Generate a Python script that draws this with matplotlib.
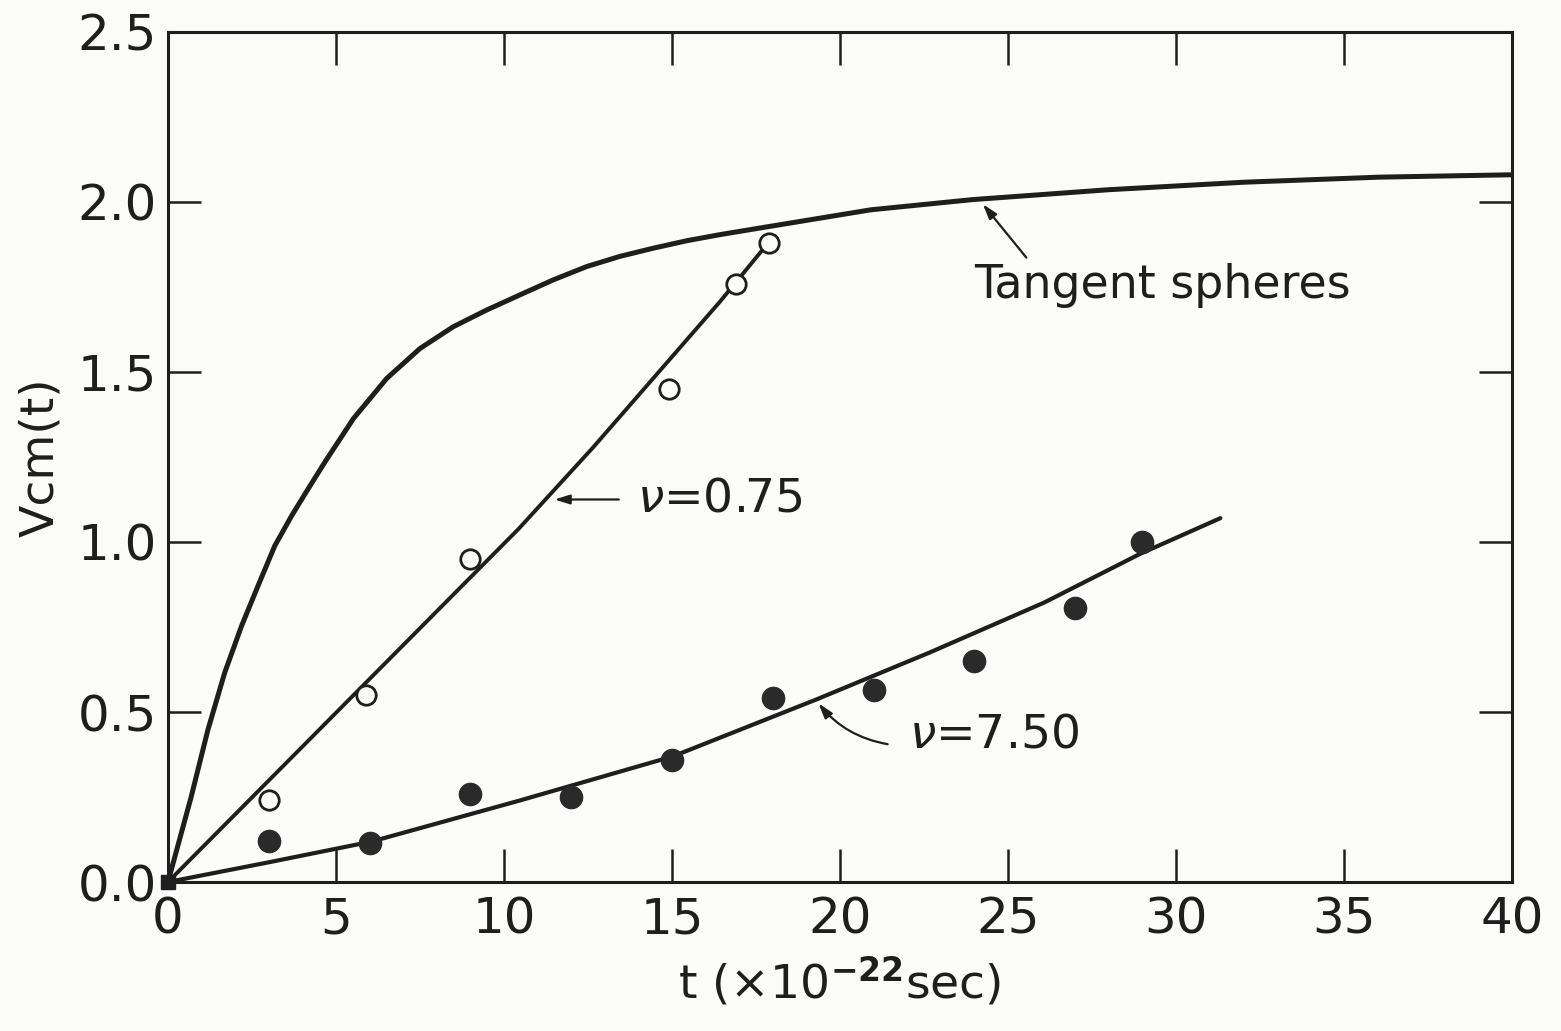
import matplotlib
matplotlib.use('Agg')
import matplotlib.pyplot as plt

# curve: tangent spheres
tangent_t = [0, 0.69, 1.19, 1.69, 2.19, 2.68, 3.18, 3.68, 4.17, 4.67, 5.52, 6.51,
             7.5, 8.49, 9.48, 10.48, 11.47, 12.46, 13.45, 14.44, 15.44, 16.43,
             17.9, 20.92, 23.95, 27.99, 32.0, 36.05, 40.0]
tangent_v = [0, 0.25, 0.448, 0.616, 0.753, 0.871, 0.989, 1.077, 1.156, 1.235, 1.363, 1.481,
             1.569, 1.633, 1.682, 1.727, 1.771, 1.81, 1.84, 1.864, 1.886, 1.904,
             1.928, 1.977, 2.007, 2.036, 2.058, 2.073, 2.08]

# nu = 0.75 line and open circles
line075_t = [0, 10.43, 12.66, 16.43, 17.9]
line075_v = [0, 1.038, 1.279, 1.707, 1.884]
open_t = [3.0, 5.9, 9.0, 14.9, 16.9, 17.9]
open_v = [0.24, 0.55, 0.95, 1.45, 1.76, 1.88]

# nu = 7.50 curve and filled circles
line750_t = [0, 3.0, 6.06, 10.48, 15.04, 19.3, 22.67, 26.08, 28.93, 31.32]
line750_v = [0, 0.058, 0.119, 0.24, 0.37, 0.537, 0.675, 0.822, 0.965, 1.07]
filled_t = [3.0, 6.0, 9.0, 12.0, 15.0, 18.0, 21.0, 24.0, 27.0, 29.0]
filled_v = [0.12, 0.115, 0.26, 0.25, 0.36, 0.54, 0.565, 0.65, 0.805, 1.0]

xticks = [0, 5, 10, 15, 20, 25, 30, 35, 40]
yticks = [0.0, 0.5, 1.0, 1.5, 2.0, 2.5]

ink = '#1e1e1e'
paper = '#fbfbfa'

plt.rcParams['font.family'] = ['DejaVu Sans']
plt.rcParams['mathtext.fontset'] = 'dejavusans'

fig = plt.figure(figsize=(15.61, 10.31), dpi=100, facecolor=paper)
ax = fig.add_axes([0.1076, 0.1445, 0.861, 0.8245])
ax.set_facecolor(paper)

ax.plot(tangent_t, tangent_v, color=ink, lw=3.6, solid_capstyle='round',
        solid_joinstyle='round')
ax.plot(line075_t, line075_v, color=ink, lw=2.8, solid_capstyle='round',
        solid_joinstyle='round')
ax.plot(line750_t, line750_v, color=ink, lw=3.0, solid_capstyle='round',
        solid_joinstyle='round')

ax.plot(open_t, open_v, 'o', ms=14, mfc=paper, mec=ink, mew=2.0, zorder=5)
ax.plot(filled_t, filled_v, 'o', ms=16, mfc='#2a2a2a', mec='#2a2a2a', zorder=5)
ax.plot([0], [0], 's', ms=10, color=ink, clip_on=False, zorder=6)

ax.set_xlim(0, 40)
ax.set_ylim(0, 2.5)
ax.set_xticks(xticks)
ax.set_yticks(yticks)
ax.set_xticklabels([str(v) for v in xticks])
ax.set_yticklabels(['%.1f' % v for v in yticks])
ax.tick_params(direction='in', length=24, width=1.8, color=ink, labelcolor=ink,
               labelsize=36, top=True, right=True)
ax.tick_params(axis='x', pad=10)
ax.tick_params(axis='y', pad=8)
for s in ax.spines.values():
    s.set_linewidth(2.2)
    s.set_color(ink)

ax.set_xlabel(r't (×10$^{\mathbf{-22}}$sec)', fontsize=34, color=ink, labelpad=8)
ax.set_ylabel('Vcm(t)', fontsize=34, color=ink, labelpad=10)

# annotations
head = '-|>,head_length=0.9,head_width=0.28'
ax.annotate('', xy=(24.2, 2.0), xytext=(25.6, 1.83),
            arrowprops=dict(arrowstyle=head, color=ink, lw=1.6))
ax.text(24.0, 1.755, 'Tangent spheres', fontsize=33, color=ink, va='center', ha='left')

ax.annotate('', xy=(11.42, 1.125), xytext=(13.5, 1.125),
            arrowprops=dict(arrowstyle=head, color=ink, lw=1.6))
ax.text(13.95, 1.125, r'$\nu$=0.75', fontsize=34, color=ink, va='center', ha='left')

ax.annotate('', xy=(19.31, 0.532), xytext=(21.5, 0.404),
            arrowprops=dict(arrowstyle=head, color=ink, lw=1.6,
                            connectionstyle='arc3,rad=-0.2'))
ax.text(22.04, 0.431, r'$\nu$=7.50', fontsize=34, color=ink, va='center', ha='left')

fig.savefig('out.png', dpi=100, facecolor=paper)
